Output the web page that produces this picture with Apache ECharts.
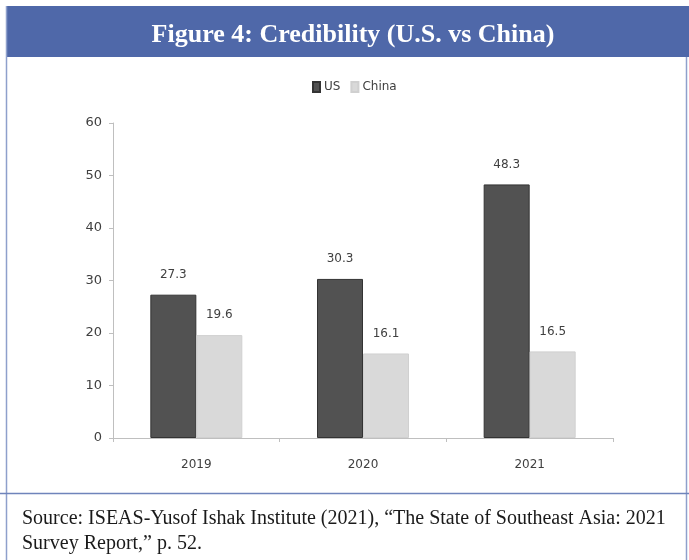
<!DOCTYPE html>
<html>
<head>
<meta charset="utf-8">
<script src="https://cdn.jsdelivr.net/npm/echarts@6/dist/echarts.min.js"></script>
<style>
html,body{margin:0;padding:0;background:#fff;}
#chart{width:689px;height:560px;}
</style>
</head>
<body>
<div id="chart"></div>
<script>
var categories = ['2019', '2020', '2021'];
var usValues = [27.3, 30.3, 48.3];
var chinaValues = [19.6, 16.1, 16.5];
var yTicks = [0, 10, 20, 30, 40, 50, 60];
var titleText = 'Figure 4: Credibility (U.S. vs China)';
var sourceLine1 = 'Source: ISEAS-Yusof Ishak Institute (2021), \u201cThe State of Southeast Asia: 2021';
var sourceLine2 = 'Survey Report,\u201d p. 52.';

var chart = echarts.init(document.getElementById('chart'));
var labelFont = 'DejaVu Sans, Verdana, sans-serif';
chart.setOption({
  animation: false,
  backgroundColor: '#ffffff',
  title: {
    text: titleText,
    left: 348,
    top: 17,
    textAlign: 'center',
    textStyle: {color: '#ffffff', fontFamily: 'Liberation Serif, serif', fontWeight: 'bold', fontSize: 26}
  },
  graphic: [
    {type: 'rect', z: -1, shape: {x: 7, y: 6, width: 682, height: 51}, style: {fill: '#4f68a9'}},
    {type: 'line', shape: {x1: 6.5, y1: 6, x2: 6.5, y2: 560}, style: {stroke: '#8ea0cc', lineWidth: 1.5}},
    {type: 'line', shape: {x1: 686.5, y1: 57, x2: 686.5, y2: 560}, style: {stroke: '#8ea0cc', lineWidth: 1.5}},
    {type: 'line', shape: {x1: 0, y1: 493.5, x2: 689, y2: 493.5}, style: {stroke: '#6f84bb', lineWidth: 1.5}},
    {type: 'text', left: 22, top: 509, style: {text: sourceLine1, fill: '#1a1a1a', font: '20px "Liberation Serif", serif'}},
    {type: 'text', left: 22, top: 534, style: {text: sourceLine2, fill: '#1a1a1a', font: '20px "Liberation Serif", serif'}}
  ],
  legend: {
    data: ['US', 'China'],
    left: 307,
    top: 76,
    itemWidth: 7,
    itemHeight: 10,
    itemGap: 10,
    icon: 'rect',
    textStyle: {color: '#404040', fontFamily: labelFont, fontSize: 12, padding: [0, 0, 0, -1]}
  },
  grid: {left: 113, right: 76, top: 123, bottom: 122, containLabel: false},
  xAxis: {
    type: 'category',
    data: categories,
    axisLine: {lineStyle: {color: '#bfbfbf'}},
    axisTick: {show: true, length: 4, lineStyle: {color: '#bfbfbf'}},
    axisLabel: {color: '#404040', fontFamily: labelFont, fontSize: 12, margin: 21}
  },
  yAxis: {
    type: 'value',
    min: 0,
    max: 60,
    interval: 10,
    splitLine: {show: false},
    axisLine: {show: true, lineStyle: {color: '#bfbfbf'}},
    axisTick: {show: true, length: 4, lineStyle: {color: '#bfbfbf'}},
    axisLabel: {color: '#404040', fontFamily: labelFont, fontSize: 13, margin: 11,
      formatter: function (v) { return yTicks.indexOf(v) >= 0 ? String(v) : ''; }}
  },
  series: [
    {
      name: 'US', type: 'bar', data: usValues,
      barWidth: 46, barGap: '0%',
      itemStyle: {color: '#525252', borderColor: '#333333', borderWidth: 1},
      label: {show: true, position: 'top', distance: 14, color: '#404040', fontFamily: labelFont, fontSize: 12}
    },
    {
      name: 'China', type: 'bar', data: chinaValues,
      barWidth: 46,
      itemStyle: {color: '#d9d9d9', borderColor: '#d0d0d0', borderWidth: 1},
      label: {show: true, position: 'top', distance: 14, color: '#404040', fontFamily: labelFont, fontSize: 12}
    }
  ]
});
</script>
</body>
</html>
